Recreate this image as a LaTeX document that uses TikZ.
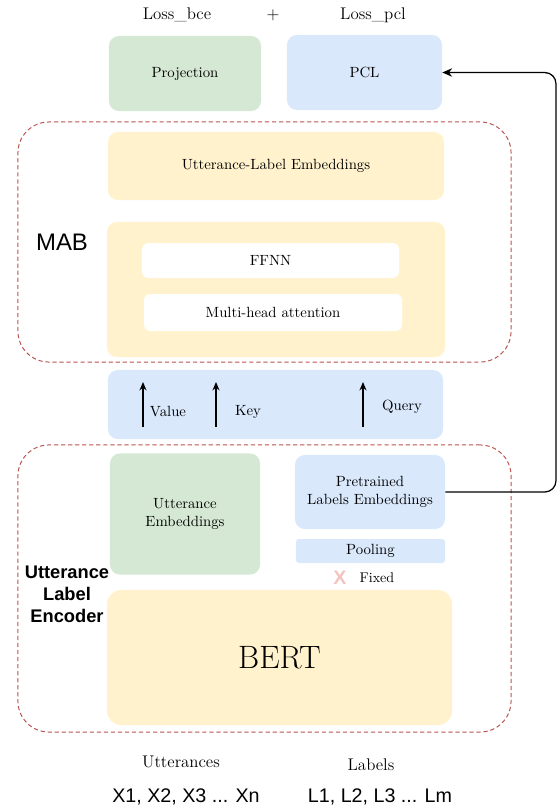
\documentclass[tikz,border=0pt]{standalone}
\usepackage{fontspec}
\setsansfont{Liberation Sans}
\usetikzlibrary{arrows.meta}
\definecolor{greenfill}{HTML}{D5E8D4}
\definecolor{bluefill}{HTML}{DAE8FC}
\definecolor{yellowfill}{HTML}{FFF2CC}
\definecolor{dashred}{HTML}{B85450}
\definecolor{crosspink}{HTML}{F2C4C0}
\tikzset{part/.style = {fill = #1,rounded corners = 7pt,align = center,inner sep = 0pt,font = \fontsize{10.5}{12.6}\selectfont},
group/.style = {draw = dashred,line width = .7pt,dash pattern = on 3pt off 2pt,rounded corners = 22pt,inner sep = 0pt},
word/.style = {inner sep = 0pt,align = center},
arrow/.style = {-{Stealth[length = 7pt,width = 6pt]},line width = .9pt}}

\begin{document}
\begin{tikzpicture}[x = .025cm,y = -.025cm]
\useasboundingbox (0,0) rectangle (558,812);

\node[group,minimum width = 12.325cm,minimum height = 6cm] (mab) at (264.5,242) {};
\node[group,minimum width = 12.325cm,minimum height = 7.175cm] (ule) at (264.5,588.5) {};

\node[word,font = \large] (lbce) at (177,15) {Loss\_bce};
\node[word,font = \large] (plus) at (273,15) {+};
\node[word,font = \large] (lpcl) at (373,15) {Loss\_pcl};

\node[part = greenfill,minimum width = 3.8cm,minimum height = 1.875cm] (proj) at (185,73.5) {Projection};
\node[part = bluefill,minimum width = 3.875cm,minimum height = 1.875cm] (pcl) at (364.5,72.5) {PCL};

\node[part = yellowfill,minimum width = 8.4cm,minimum height = 1.7cm] (emb) at (276,166) {Utterance-Label Embeddings};
\node[part = yellowfill,minimum width = 8.45cm,minimum height = 3.375cm] (core) at (276,289.5) {};
\node[part = white,rounded corners = 4pt,minimum width = 6.425cm,minimum height = .875cm] (ffnn) at (270.5,260.5) {FFNN};
\node[part = white,rounded corners = 4pt,minimum width = 6.45cm,minimum height = .925cm] (mha) at (273,312.5) {Multi-head attention};
\node[word,font = \sffamily\fontsize{17}{20}\selectfont] (mabtext) at (62,242) {MAB};

\node[part = bluefill,minimum width = 8.375cm,minimum height = 1.725cm] (vkq) at (275.5,404.5) {};
\foreach \x/\n in {143/v,216/k,363/q}{
\coordinate (\n0) at (\x,427);
\coordinate (\n1) at (\x,382);
\draw[arrow,-{Stealth[length = 6pt,width = 5pt]}] (\n0) -- (\n1);
}
\node[word,font = \fontsize{10.5}{12.6}\selectfont] (value) at (168,412) {Value};
\node[word,font = \fontsize{10.5}{12.6}\selectfont] (key) at (248,412) {Key};
\node[word,font = \fontsize{10.5}{12.6}\selectfont] (query) at (402,407) {Query};

\node[part = greenfill,minimum width = 3.75cm,minimum height = 3.025cm] (uemb) at (185,514) {Utterance \\ Embeddings};
\node[part = bluefill,minimum width = 3.75cm,minimum height = 1.85cm] (pre) at (370,492) {Pretrained \\ Labels Embeddings};
\node[part = bluefill,rounded corners = 2pt,minimum width = 3.725cm,minimum height = .6cm] (pool) at (370.5,551) {Pooling};
\node[word,font = \sffamily\bfseries\fontsize{14}{14}\selectfont,text = crosspink] (cross) at (340,578) {X};
\node[word] (fixed) at (377,578) {Fixed};
\node[part = yellowfill,rounded corners = 10pt,minimum width = 8.625cm,minimum height = 3.375cm,font = \fontsize{23}{27}\selectfont] (bert) at (279.5,657.5) {BERT};
\node[word,font = \sffamily\bfseries\fontsize{13}{15.6}\selectfont] (uletext) at (67,594) {Utterance \\ Label \\ Encoder};

\node[word,font = \large] (utts) at (181,762) {Utterances};
\node[word,font = \large] (labs) at (371,765) {Labels};
\node[word,font = \sffamily\fontsize{14}{16}\selectfont] (xs) at (186,797) {X1, X2, X3 ... Xn};
\node[word,font = \sffamily\fontsize{14}{16}\selectfont] (ls) at (380,797) {L1, L2, L3 ... Lm};

\coordinate (turn) at (556,72.5);
\draw[arrow,rounded corners = 8pt] (pre.east) -| (turn) -- (pcl.east);
\end{tikzpicture}
\end{document}
